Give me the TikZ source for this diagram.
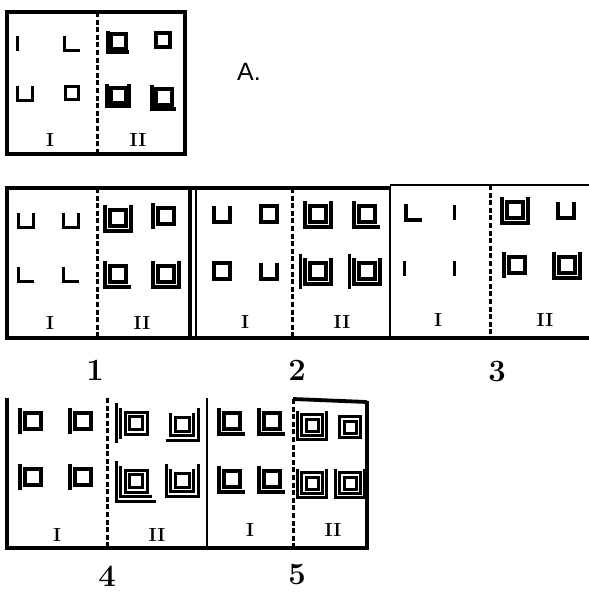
\documentclass[tikz,border=0pt]{standalone}
\usepackage{fontspec}
\newfontfamily\letterfont{Liberation Sans}
\usetikzlibrary{calc}
\tikzstyle{glyph} = [line width=3.3pt]
\tikzstyle{frame} = [line width=3.8pt]
\tikzstyle{divide} = [line width=3pt, dash pattern=on 5pt off 2.6pt]
\tikzstyle{roman} = [font=\bfseries\fontsize{19}{19}\selectfont, inner sep=0pt]
\tikzstyle{number} = [font=\bfseries\fontsize{31}{31}\selectfont, inner sep=0pt]

% glyph pieces: centre x, centre y, half size
\newcommand{\gsq}[3]{\draw[glyph] (#1-#3,#2-#3) rectangle (#1+#3,#2+#3);}
\newcommand{\gU}[3]{\draw[glyph] (#1-#3,#2-#3) -- (#1-#3,#2+#3) -- (#1+#3,#2+#3) -- (#1+#3,#2-#3);}
\newcommand{\gL}[3]{\draw[glyph] (#1-#3,#2-#3) -- (#1-#3,#2+#3) -- (#1+#3,#2+#3);}
\newcommand{\gJ}[3]{\draw[glyph] (#1-#3,#2+#3) -- (#1+#3,#2+#3) -- (#1+#3,#2-#3);}
\newcommand{\gI}[3]{\draw[glyph] (#1-#3,#2-#3) -- (#1-#3,#2+#3);}

\begin{document}
\begin{tikzpicture}[x=1pt,y=-1pt]
\useasboundingbox (0,0) rectangle (589,595);

% panel A
\draw[line width=4.2pt] (7,12) rectangle (185,154);
\draw[divide] (97,12) -- (97,154);
\gI{25}{43}{7.5} \gL{72}{43}{7.5}
\gU{25}{93}{7.5} \gsq{72}{93}{6.5}
\begin{scope}[glyph/.style={line width=4pt}]
\gsq{118}{41}{7.5} \gL{118}{41}{10.5}
\gsq{163}{40}{7}
\gsq{118}{95}{7.5} \gU{118}{95}{11}
\gsq{164}{97}{8} \gL{164}{97}{12}
\end{scope}
\node[roman] (ia) at (50,140) {I};
\node[roman] (iia) at (138,140) {II};
\node[font=\letterfont\fontsize{25}{25}\selectfont] (lettA) at (249,72) {A.};

% row of panels 1, 2, 3
\draw[frame] (7,188) rectangle (190,338);
\draw[frame] (190,188) -- (390,188);
\draw[frame] (190,338) -- (589,338);
\draw[line width=1.8pt] (196,188) -- (196,338);
\draw[line width=2.2pt] (390,186) -- (390,338);
\draw[line width=1.6pt] (390,185) -- (589,185);
\draw[divide] (97,188) -- (97,338);
\draw[divide] (292,188) -- (292,338);
\draw[divide] (490,185) -- (490,338);

% panel 1
\gU{26}{220}{7.5} \gU{71}{220}{7.5}
\gL{26}{274}{7.5} \gL{71}{274}{7.5}
\gsq{118}{218}{8} \gU{118}{218}{13}
\gsq{166}{216}{8} \gI{166}{216}{13}
\gsq{118}{274}{8} \gL{118}{274}{13}
\gsq{166}{274}{8} \gU{166}{274}{13}
\node[roman] (i1) at (50,323) {I};
\node[roman] (ii1) at (142,323) {II};
\node[number] (n1) at (95,370) {1};

% panel 2
\gU{222}{214}{8} \gsq{269}{214}{8}
\gsq{222}{271}{8} \gU{269}{271}{8}
\gsq{318}{214}{8} \gU{318}{214}{13}
\gsq{367}{214}{8} \gL{367}{214}{13}
\gsq{318}{271}{8} \gU{318}{271}{13} \gI{318}{271}{17.5}
\gsq{367}{271}{8} \gU{367}{271}{13} \gI{367}{271}{17.5}
\node[roman] (i2) at (245,322) {I};
\node[roman] (ii2) at (342,322) {II};
\node[number] (n2) at (297,370) {2};

% panel 3
\gL{414}{212}{8} \gI{462}{212}{7.5}
\gI{412}{268}{7.5} \gI{462}{268}{7.5}
\gsq{515}{210}{8} \gU{515}{210}{13}
\gU{566}{210}{8}
\gsq{517}{265}{8} \gI{517}{265}{13}
\gsq{567}{265}{8} \gU{567}{265}{13}
\node[roman] (i3) at (438,320) {I};
\node[roman] (ii3) at (545,320) {II};
\node[number] (n3) at (497,372) {3};

% row of panels 4, 5
\draw[frame] (7,398) -- (7,548) -- (367,548) -- (367,401);
\draw[frame] (293,399) -- (367,402);
\draw[line width=2.2pt] (207,398) -- (207,548);
\draw[divide] (107,398) -- (107,548);
\draw[divide] (293,399) -- (293,548);

% panel 4
\foreach \y in {421, 477} {
    \gsq{33}{\y}{8} \gI{33}{\y}{13}
    \gsq{83}{\y}{8} \gI{83}{\y}{13}
}
\begin{scope}[glyph/.style={line width=3pt}]
\gsq{136}{423}{6.5} \gsq{136}{423}{11} \gI{136}{423}{15.5} \gI{136}{423}{20}
\gsq{182}{424}{7} \gU{182}{424}{11.5} \gJ{182}{424}{16}
\gsq{136}{481}{6.5} \gsq{136}{481}{11} \gL{136}{481}{15.5} \gL{136}{481}{20}
\gsq{182}{480}{7} \gU{182}{480}{11.5} \gU{182}{480}{16}
\end{scope}
\node[roman] (i4) at (57,535) {I};
\node[roman] (ii4) at (157,535) {II};
\node[number] (n4) at (107,576) {4};

% panel 5
\foreach \y in {421, 479} {
    \gsq{232}{\y}{8} \gL{232}{\y}{13}
    \gsq{272}{\y}{8} \gL{272}{\y}{13}
}
\begin{scope}[glyph/.style={line width=3pt}]
\gsq{312}{425}{6} \gsq{312}{425}{10.2} \gU{312}{425}{14.4}
\gsq{350}{427}{6} \gsq{350}{427}{10.2}
\gsq{312}{483}{6} \gsq{312}{483}{10.2} \gU{312}{483}{14.4}
\gsq{350}{483}{6} \gsq{350}{483}{10.2} \gU{350}{483}{14.4}
\end{scope}
\node[roman] (i5) at (250,530) {I};
\node[roman] (ii5) at (333,530) {II};
\node[number] (n5) at (297,575) {5};
\end{tikzpicture}
\end{document}
